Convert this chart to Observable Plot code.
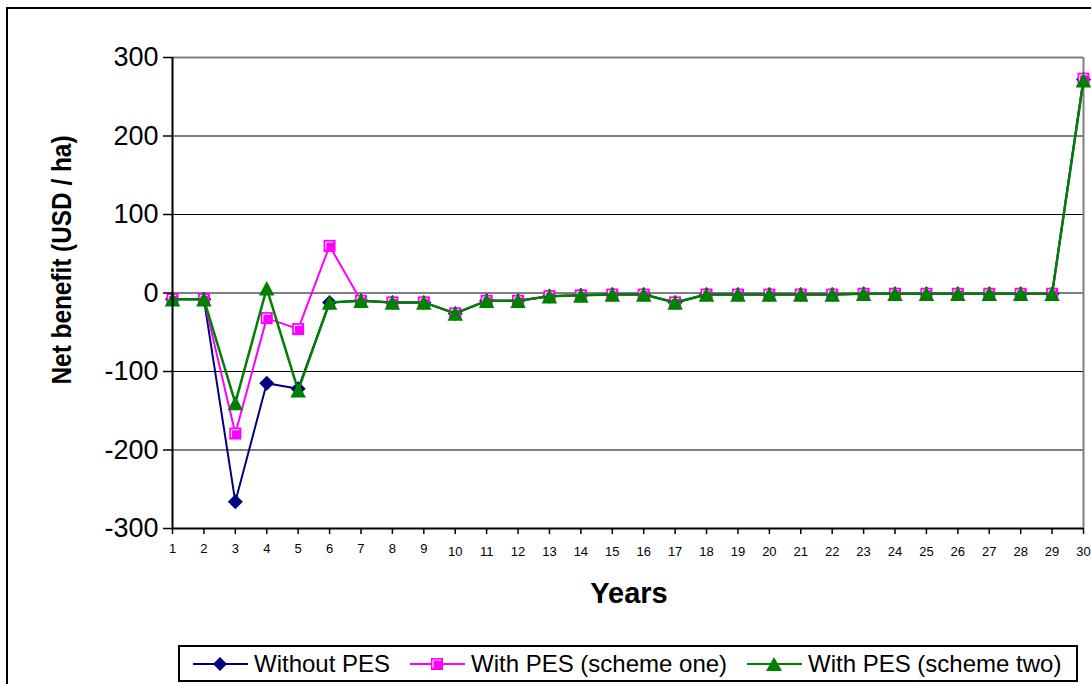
<!DOCTYPE html>
<html>
<head>
<meta charset="utf-8">
<script src="https://cdn.jsdelivr.net/npm/d3@7"></script>
<script src="https://cdn.jsdelivr.net/npm/@observablehq/plot@0.6"></script>
<style>
  body { margin: 0; background: #fff; overflow: hidden; font-family: "Liberation Sans", Arial, sans-serif; }
  #wrap { position: relative; width: 1091px; height: 684px; overflow: hidden; background: #fff; }
  #frame { position: absolute; left: 6px; top: 7px; width: 1200px; height: 800px; border: 2px solid #000; }
  #chart { position: absolute; left: 0; top: 0; }
  #ytitle { position: absolute; left: 62px; top: 260px; transform: translate(-50%, -50%) rotate(-90deg) scaleX(0.87); font-weight: bold; font-size: 28px; white-space: nowrap; color: #000; }
  #xtitle { position: absolute; left: 629px; top: 593px; transform: translate(-50%, -50%); font-weight: bold; font-size: 29px; white-space: nowrap; color: #000; }
  #legend { position: absolute; left: 178px; top: 645px; width: 900px; height: 37px; box-sizing: border-box; border: 2px solid #000; background: #fff; }
  .item { position: absolute; top: 0; height: 33px; display: flex; align-items: center; font-size: 24px; white-space: nowrap; color: #000; }
  .item svg { margin-right: 6px; }
</style>
</head>
<body>
<div id="wrap">
  <div id="frame"></div>
  <div id="chart"></div>
  <div id="ytitle">Net benefit (USD / ha)</div>
  <div id="xtitle">Years</div>
  <div id="legend"></div>
</div>
<script>
// ---- data ----
const years = [1,2,3,4,5,6,7,8,9,10,11,12,13,14,15,16,17,18,19,20,21,22,23,24,25,26,27,28,29,30];
const withoutPES = [-8,-8,-266,-115,-122,-12,-10,-12,-12,-26,-10,-10,-4,-3,-2,-2,-12,-2,-2,-2,-2,-2,-1,-1,-1,-1,-1,-1,-1,272];
const schemeOne  = [-8,-8,-179,-32,-46,60,-10,-12,-12,-26,-10,-10,-4,-3,-2,-2,-12,-2,-2,-2,-2,-2,-1,-1,-1,-1,-1,-1,-1,273];
const schemeTwo  = [-8,-8,-140,6,-124,-12,-10,-12,-12,-26,-10,-10,-4,-3,-2,-2,-12,-2,-2,-2,-2,-2,-1,-1,-1,-1,-1,-1,-1,271];
const seriesNames = ["Without PES", "With PES (scheme one)", "With PES (scheme two)"];
const seriesColors = ["#000080", "#FF00FF", "#008000"];
const yTicks = [-300,-200,-100,0,100,200,300];

// ---- symbols ----
const diamond = { draw(ctx, size) { const h = Math.sqrt(size / 2); ctx.moveTo(0, -h); ctx.lineTo(h, 0); ctx.lineTo(0, h); ctx.lineTo(-h, 0); ctx.closePath(); } };
const square = { draw(ctx, size) { const s = Math.sqrt(size) / 2; ctx.rect(-s, -s, 2 * s, 2 * s); } };
const squareHi = { draw(ctx, size) { const s = Math.sqrt(size) / 2; ctx.moveTo(-s, s); ctx.lineTo(-s, -s); ctx.lineTo(s, -s); } };
const triangle = { draw(ctx, size) { const h = Math.sqrt(2 * size / 1.07), w = h * 1.07; ctx.moveTo(0, -h / 2); ctx.lineTo(w / 2, h / 2); ctx.lineTo(-w / 2, h / 2); ctx.closePath(); } };

const rows = (vals) => years.map((y, i) => ({year: y, value: vals[i]}));
const d0 = rows(withoutPES), d1 = rows(schemeOne), d2 = rows(schemeTwo);

const chart = Plot.plot({
  width: 1091,
  height: 640,
  marginLeft: 172,
  marginRight: 8,
  marginTop: 57,
  marginBottom: 112,
  x: {type: "linear", domain: [1, 30]},
  y: {domain: [-300, 300]},
  style: {fontFamily: "'Liberation Sans', Arial, sans-serif", background: "transparent", color: "#000", overflow: "visible"},
  marks: [
    Plot.gridY(yTicks.filter(d => d > -300 && d < 300), {stroke: "#000", strokeOpacity: 1, strokeWidth: 1}),
    Plot.ruleY([300], {stroke: "#808080", strokeWidth: 2}),
    Plot.ruleX([30], {stroke: "#808080", strokeWidth: 2}),
    Plot.line(d0, {x: "year", y: "value", stroke: seriesColors[0], strokeWidth: 2}),
    Plot.dot(d0, {x: "year", y: "value", symbol: diamond, r: 6, fill: seriesColors[0], stroke: "none"}),
    Plot.line(d1, {x: "year", y: "value", stroke: seriesColors[1], strokeWidth: 2}),
    Plot.dot(d1, {x: "year", y: "value", symbol: square, r: 6.8, fill: seriesColors[1], stroke: "none"}),
    Plot.dot(d1, {x: "year", y: "value", symbol: squareHi, r: 4.3, fill: "none", stroke: "#fff", strokeWidth: 1}),
    Plot.line(d2, {x: "year", y: "value", stroke: seriesColors[2], strokeWidth: 2.5}),
    Plot.dot(d2, {x: "year", y: "value", symbol: triangle, r: 6, fill: seriesColors[2], stroke: "none"}),
    Plot.ruleX([1], {stroke: "#000", strokeWidth: 2}),
    Plot.ruleY([-300], {stroke: "#000", strokeWidth: 2}),
    Plot.axisY({ticks: yTicks, tickSize: 9, tickPadding: 5, fontSize: 27, label: null, strokeWidth: 1.5, tickFormat: d => String(d)}),
    Plot.axisX({ticks: years.filter(d => d < 10), tickSize: 6, tickPadding: 9, fontSize: 13, label: null, strokeWidth: 1.5, tickFormat: d => String(d)}),
    Plot.axisX({ticks: years.filter(d => d >= 10), tickSize: 6, tickPadding: 12, fontSize: 13, label: null, strokeWidth: 1.5, tickFormat: d => String(d)})
  ]
});
document.getElementById("chart").appendChild(chart);

// ---- legend ----
const legend = document.getElementById("legend");
const legendLeft = [13, 230, 567];
const legendSymbols = [
  `<path d="M27,3 L34,10 L27,17 L20,10 Z" fill="#000080"/>`,
  `<rect x="21" y="4" width="12" height="12" fill="#FF00FF"/><path d="M23,14 L23,6 L31,6" fill="none" stroke="#fff" stroke-width="1"/>`,
  `<path d="M27,3 L35,17 L19,17 Z" fill="#008000"/>`
];
seriesNames.forEach((name, i) => {
  const it = document.createElement("div");
  it.className = "item";
  it.style.left = legendLeft[i] + "px";
  it.innerHTML = `<svg width="55" height="20"><line x1="0" y1="10" x2="55" y2="10" stroke="${seriesColors[i]}" stroke-width="2"/>${legendSymbols[i]}</svg><span>${name}</span>`;
  legend.appendChild(it);
});
</script>
</body>
</html>
